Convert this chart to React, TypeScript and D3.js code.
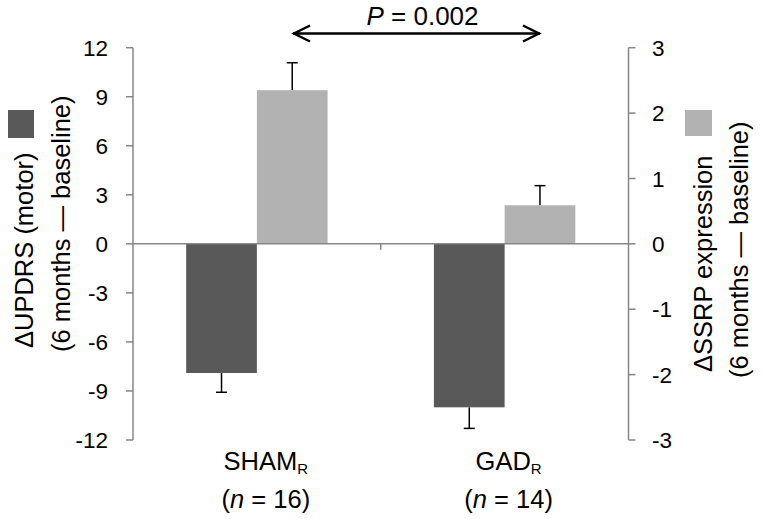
import React from "react";
import * as d3 from "d3";

const categories = ["SHAM", "GAD"];
const sampleSizes = [16, 14];
const updrs = [-7.9, -10.0];
const updrsErr = [1.18, 1.29];
const ssrp = [2.35, 0.59];
const ssrpErr = [0.42, 0.3];
const leftTicks = [12, 9, 6, 3, 0, -3, -6, -9, -12];
const rightTicks = [3, 2, 1, 0, -1, -2, -3];
const pLabel = "0.002";

const W = 762;
const H = 519;
const FONT = "'Liberation Sans', Arial, sans-serif";
const DARK = "#595959";
const LIGHT = "#b2b2b2";
const AXIS = "#868686";
const labelShift = [9, 4];

export default function App() {
  const x0 = 133;
  const x1 = 628.5;
  const yTop = 47.7;
  const yBot = 440;
  const yL = d3.scaleLinear().domain([-12, 12]).range([yBot, yTop]);
  const yR = d3.scaleLinear().domain([-3, 3]).range([yBot, yTop]);
  const xBand = d3.scaleBand<string>().domain(categories).range([x0, x1]);
  const groupW = 141.4;
  const inner = d3.scaleBand<string>().domain(["u", "s"]).range([0, groupW]);
  const bw = inner.bandwidth();
  const gx = (c: string) => (xBand(c) as number) + xBand.bandwidth() / 2 - groupW / 2;
  const cap = 5.5;

  const boundaries = d3.range(1, categories.length).map((i) => x0 + i * xBand.bandwidth());

  const arrowY = 33.5;
  const arrowL = 293;
  const arrowR = 540;

  return (
    <svg width={W} height={H} style={{ position: "absolute", left: 0, top: 0, background: "#fff" }} fontFamily={FONT}>
      {/* bars */}
      {categories.map((c, i) => {
        const bx = gx(c);
        const uY = yL(updrs[i]);
        const uE = yL(updrs[i] - updrsErr[i]);
        const sY = yR(ssrp[i]);
        const sE = yR(ssrp[i] + ssrpErr[i]);
        const ux = bx + (inner("u") as number);
        const sx = bx + (inner("s") as number);
        return (
          <g key={c}>
            <line x1={ux + bw / 2} x2={ux + bw / 2} y1={uY} y2={uE} stroke="#000" strokeWidth={1.5} />
            <line x1={ux + bw / 2 - cap} x2={ux + bw / 2 + cap} y1={uE} y2={uE} stroke="#000" strokeWidth={1.5} />
            <line x1={sx + bw / 2} x2={sx + bw / 2} y1={sY} y2={sE} stroke="#000" strokeWidth={1.5} />
            <line x1={sx + bw / 2 - cap} x2={sx + bw / 2 + cap} y1={sE} y2={sE} stroke="#000" strokeWidth={1.5} />
            <rect x={ux} y={yL(0)} width={bw} height={uY - yL(0)} fill={DARK} />
            <rect x={sx} y={sY} width={bw} height={yR(0) - sY} fill={LIGHT} />
          </g>
        );
      })}
      {/* zero line */}
      <line x1={x0} x2={x1} y1={yL(0)} y2={yL(0)} stroke={AXIS} strokeWidth={1.5} />
      {boundaries.map((bx, i) => (
        <line key={i} x1={bx} x2={bx} y1={yL(0)} y2={yL(0) + 6} stroke={AXIS} strokeWidth={1.5} />
      ))}
      {/* left axis */}
      <line x1={x0} x2={x0} y1={yTop} y2={yBot} stroke={AXIS} strokeWidth={1.5} />
      {leftTicks.map((t) => (
        <g key={t}>
          <line x1={x0 - 7} x2={x0} y1={yL(t)} y2={yL(t)} stroke={AXIS} strokeWidth={1.5} />
          <text x={108} y={yL(t)} dy="0.36em" textAnchor="end" fontSize={22.5} fill="#000">
            {t}
          </text>
        </g>
      ))}
      {/* right axis */}
      <line x1={x1} x2={x1} y1={yTop} y2={yBot} stroke={AXIS} strokeWidth={1.5} />
      {rightTicks.map((t) => (
        <g key={t}>
          <line x1={x1} x2={x1 + 7} y1={yR(t)} y2={yR(t)} stroke={AXIS} strokeWidth={1.5} />
          <text x={652} y={yR(t)} dy="0.36em" textAnchor="start" fontSize={22.5} fill="#000">
            {t}
          </text>
        </g>
      ))}
      {/* category labels */}
      {categories.map((c, i) => {
        const cx = (xBand(c) as number) + xBand.bandwidth() / 2 + labelShift[i];
        return (
          <g key={c}>
            <text x={cx} y={470} textAnchor="middle" fontSize={25.5} fill="#000">
              {c}
              <tspan fontSize={15} dy={4}>R</tspan>
            </text>
            <text x={cx} y={508} textAnchor="middle" fontSize={25.5} fill="#000">
              (<tspan fontStyle="italic">n</tspan> = {sampleSizes[i]})
            </text>
          </g>
        );
      })}
      {/* left axis title */}
      <g transform="translate(33,348) rotate(-90)">
        <text x={0} y={0} fontSize={25.5} fill="#000">ΔUPDRS (motor)</text>
      </g>
      <rect x={8} y={110} width={26} height={28} fill={DARK} />
      <g transform="translate(70,352) rotate(-90)">
        <text x={0} y={0} fontSize={25.5} fill="#000">(6 months — baseline)</text>
      </g>
      {/* right axis title */}
      <g transform="translate(712,372) rotate(-90)">
        <text x={0} y={0} fontSize={25.5} fill="#000">ΔSSRP expression</text>
      </g>
      <rect x={685} y={110} width={27} height={26} fill={LIGHT} />
      <g transform="translate(748,378) rotate(-90)">
        <text x={0} y={0} fontSize={25.5} fill="#000">(6 months — baseline)</text>
      </g>
      {/* p-value annotation */}
      <text x={422.5} y={25} textAnchor="middle" fontSize={26} fill="#000">
        <tspan fontStyle="italic">P</tspan> = {pLabel}
      </text>
      <line x1={arrowL} x2={arrowR} y1={arrowY} y2={arrowY} stroke="#000" strokeWidth={2.5} />
      <polyline points={`${arrowL + 17},${arrowY - 8} ${arrowL + 1},${arrowY} ${arrowL + 17},${arrowY + 8}`} fill="none" stroke="#000" strokeWidth={2.5} />
      <polyline points={`${arrowR - 17},${arrowY - 8} ${arrowR - 1},${arrowY} ${arrowR - 17},${arrowY + 8}`} fill="none" stroke="#000" strokeWidth={2.5} />
    </svg>
  );
}
